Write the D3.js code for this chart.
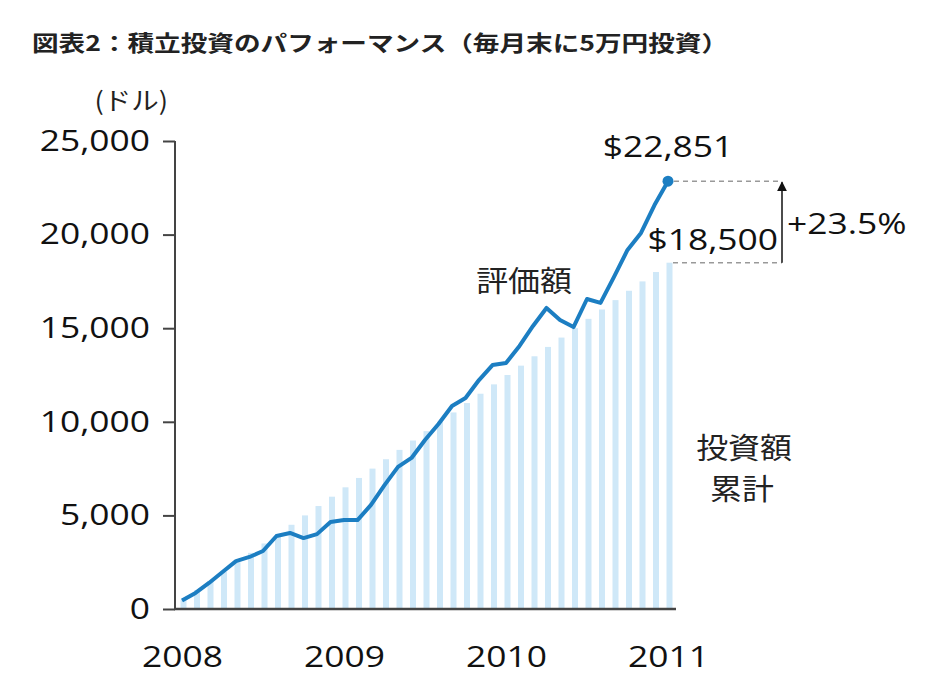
<!DOCTYPE html>
<html><head><meta charset="utf-8">
<script src="https://cdn.jsdelivr.net/npm/d3@7"></script>
<style>
body{margin:0;background:#fff;}
svg{display:block;}
</style></head>
<body>
<svg id="c" width="936" height="698"></svg>
<script>
const months = ["2008-01","2008-02","2008-03","2008-04","2008-05","2008-06","2008-07","2008-08","2008-09","2008-10","2008-11","2008-12",
"2009-01","2009-02","2009-03","2009-04","2009-05","2009-06","2009-07","2009-08","2009-09","2009-10","2009-11","2009-12",
"2010-01","2010-02","2010-03","2010-04","2010-05","2010-06","2010-07","2010-08","2010-09","2010-10","2010-11","2010-12","2011-01"];
const invested = [500,1000,1500,2000,2500,3000,3500,4000,4500,5000,5500,6000,6500,7000,7500,8000,8500,9000,9500,10000,10500,11000,11500,12000,12500,13000,13500,14000,14500,15000,15500,16000,16500,17000,17500,18000,18500];
const valuation = [450,860,1390,1980,2560,2780,3100,3900,4060,3790,4000,4650,4750,4750,5560,6620,7590,8070,9030,9880,10840,11270,12230,13030,13140,14050,15120,16080,15440,15060,16560,16350,17740,19180,20090,21580,22851];
const yTicks = [0,5000,10000,15000,20000,25000];
const yearTicks = ["2008-01","2009-01","2010-01","2011-01"];
const yearLabels = ["2008","2009","2010","2011"];

const svg = d3.select("#c");
const numFont = "'Open Sans', 'DejaVu Sans', sans-serif";
const jpFont = "'Noto Sans CJK JP', sans-serif";
const SX = 1.22;

const x = d3.scalePoint().domain(months).range([182,668]);
const y = d3.scaleLinear().domain([0,25000]).range([609,141]);

function label(px, py, txt, opts){
  return svg.append("text")
    .attr("transform", `translate(${px},${py}) scale(${opts.sx||SX},1)`)
    .attr("text-anchor", opts.anchor||"middle")
    .attr("font-family", opts.font||numFont)
    .attr("font-size", opts.size||30)
    .attr("font-weight", opts.weight||400)
    .attr("fill", opts.fill||"#111")
    .text(txt);
}

// title
svg.append("text").attr("x",32).attr("y",51)
  .attr("font-family",jpFont).attr("font-weight","700").attr("font-size",21.5)
  .attr("fill","#222")
  .attr("textLength",696).attr("lengthAdjust","spacingAndGlyphs")
  .text("図表2：積立投資のパフォーマンス（毎月末に5万円投資）");

// unit
label(168,110,"(ドル)",{anchor:"end",font:jpFont,size:25,sx:1.1,fill:"#222"});

// bars
svg.append("g").selectAll("rect").data(invested).join("rect")
  .attr("x",(d,i)=>x(months[i])-1.5).attr("width",6)
  .attr("y",d=>y(d)).attr("height",d=>y(0)-y(d))
  .attr("fill","#cfe8f8");

// y axis
const yAxis = svg.append("g").attr("transform","translate(175,0)")
  .call(d3.axisLeft(y).tickValues(yTicks).tickSize(12).tickPadding(12).tickFormat(d3.format(",")));
yAxis.select(".domain").attr("stroke","#444").attr("stroke-width",2).attr("d","M0,"+y(25000)+"V"+y(0));
yAxis.selectAll(".tick line").attr("stroke","#444").attr("stroke-width",2);
yAxis.selectAll(".tick text").attr("font-family",numFont).attr("font-size",29).attr("fill","#111")
  .attr("x",-25/SX).attr("transform",`scale(${SX},1)`);

// x axis
const xAxis = svg.append("g").attr("transform","translate(0,"+y(0)+")")
  .call(d3.axisBottom(x).tickValues(yearTicks).tickSize(0).tickPadding(37)
    .tickFormat((d,i)=>yearLabels[i]));
xAxis.select(".domain").attr("stroke","#444").attr("stroke-width",2.5).attr("d","M174,0H676");
xAxis.selectAll(".tick text").attr("font-family",numFont).attr("font-size",29).attr("fill","#111")
  .attr("transform",`scale(${SX},1)`);

// line
const line = d3.line().x((d,i)=>x(months[i])).y(d=>y(d));
svg.append("path").datum(valuation).attr("d",line)
  .attr("fill","none").attr("stroke","#1c7ec2").attr("stroke-width",4)
  .attr("stroke-linejoin","round");

const last = valuation.length-1;
const lx = x(months[last]), ly = y(valuation[last]);
svg.append("circle").attr("cx",lx).attr("cy",ly).attr("r",5.5).attr("fill","#1c7ec2");

// dashed guide lines
const ax = 782;
svg.append("line").attr("x1",lx+6).attr("x2",ax).attr("y1",ly).attr("y2",ly)
  .attr("stroke","#999").attr("stroke-width",1.5).attr("stroke-dasharray","5,4");
svg.append("line").attr("x1",x(months[last])+5).attr("x2",ax).attr("y1",y(invested[last])).attr("y2",y(invested[last]))
  .attr("stroke","#999").attr("stroke-width",1.5).attr("stroke-dasharray","5,4");

// arrow
svg.append("defs").append("marker").attr("id","ah").attr("viewBox","0 0 10 10")
  .attr("refX",9).attr("refY",5).attr("markerWidth",10).attr("markerHeight",10)
  .attr("markerUnits","userSpaceOnUse").attr("orient","auto")
  .append("path").attr("d","M0,0L10,5L0,10Z").attr("fill","#111");
svg.append("line").attr("x1",ax).attr("x2",ax).attr("y1",y(invested[last])).attr("y2",ly+1)
  .attr("stroke","#111").attr("stroke-width",1.5).attr("marker-end","url(#ah)");

// annotations
label(lx,157,"$"+d3.format(",")(valuation[last]),{size:30,sx:1.18});
label(778,250,"$"+d3.format(",")(invested[last]),{anchor:"end",size:30,sx:1.18});
label(787,234,"+"+d3.format(".1f")((valuation[last]/invested[last]-1)*100)+"%",{anchor:"start",size:30,sx:1.18});

label(524,292,"評価額",{font:jpFont,size:29,sx:1.1,fill:"#222"});
label(744,459,"投資額",{font:jpFont,size:29,sx:1.1,fill:"#222"});
label(742,500,"累計",{font:jpFont,size:29,sx:1.1,fill:"#222"});
</script>
</body></html>
